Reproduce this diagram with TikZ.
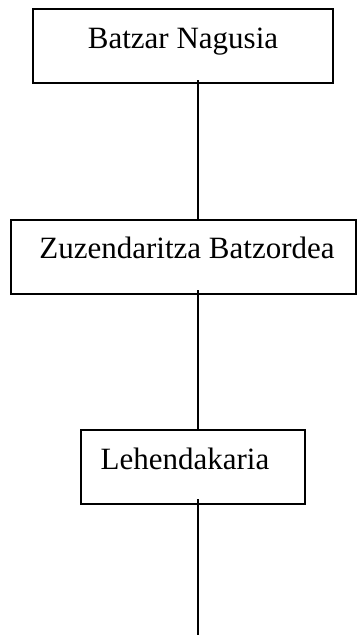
\documentclass[tikz,border=0pt]{standalone}
\usepackage{fontspec}
\setmainfont{Liberation Serif}
\usetikzlibrary{calc}
\begin{document}
\begin{tikzpicture}[x=1pt,y=-1pt,
  box/.style={draw,line width=1.1pt,inner sep=0pt,outer sep=0pt},
  lbl/.style={anchor=base,inner sep=0pt,font=\fontsize{31}{36}\selectfont},
  conn/.style={line width=1.1pt}]
\useasboundingbox (0,0) rectangle (358,635);
\node[box,minimum width=300pt,minimum height=74pt] (b1) at (183,46) {};
\node[box,minimum width=345pt,minimum height=74pt] (b2) at (183.5,257) {};
\node[box,minimum width=224pt,minimum height=74pt] (b3) at (193,467) {};
\node[lbl] (t1) at (183,48) {Batzar Nagusia};
\node[lbl] (t2) at (187,258) {Zuzendaritza Batzordea};
\node[lbl] (t3) at (185,469) {Lehendakaria};
\coordinate (c) at (198,0);
\coordinate (e) at (198,635);
\draw[conn] ($(b1.south -| c)+(0,-3)$) -- (b2.north -| c);
\draw[conn] ($(b2.south -| c)+(0,-4)$) -- (b3.north -| c);
\draw[conn] ($(b3.south -| c)+(0,-5)$) -- (e);
\end{tikzpicture}
\end{document}
